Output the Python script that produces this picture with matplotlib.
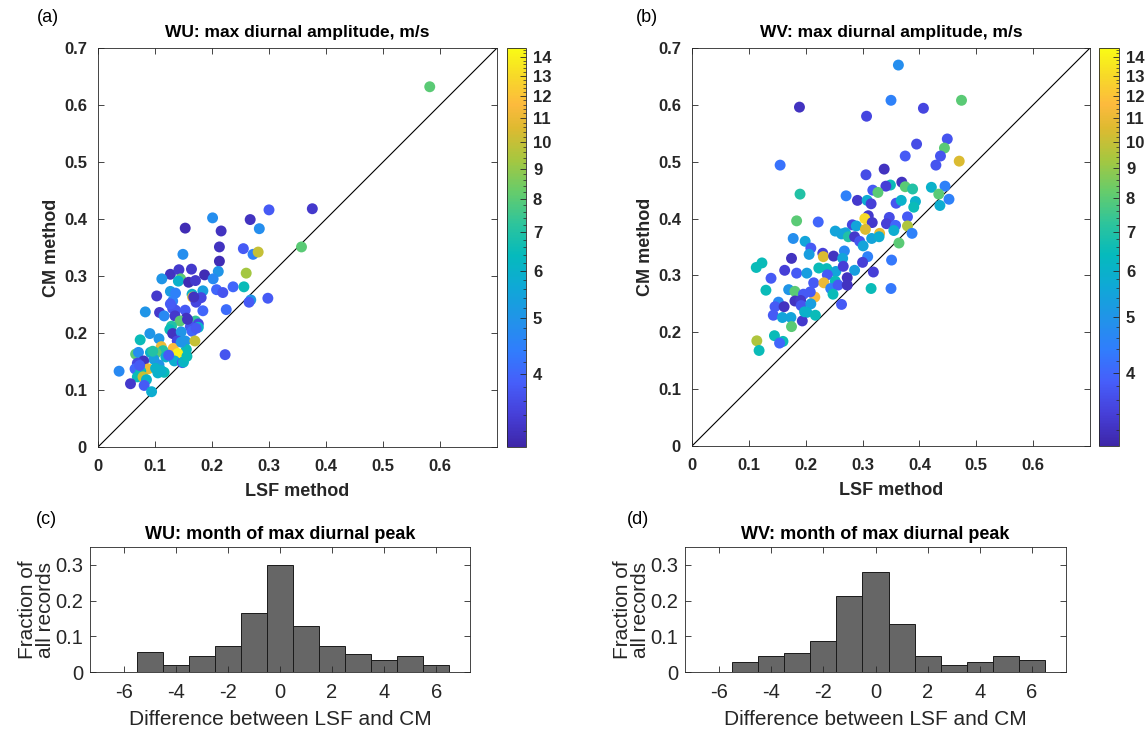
import numpy as np
import matplotlib
matplotlib.use("Agg")
import matplotlib.pyplot as plt
from matplotlib.colors import LinearSegmentedColormap, LogNorm
from matplotlib.ticker import FixedLocator, FuncFormatter, NullFormatter

plt.rcParams['font.family'] = ['Liberation Sans', 'DejaVu Sans']
plt.rcParams['axes.unicode_minus'] = False

# --- panel (a): WU max diurnal amplitude
wu_lsf = [0.582, 0.376, 0.300, 0.201, 0.267, 0.153, 0.216, 0.283, 0.213, 0.357,
          0.255, 0.272, 0.281, 0.149, 0.213, 0.260, 0.211, 0.127, 0.142, 0.164,
          0.187, 0.112, 0.145, 0.141, 0.159, 0.171, 0.202, 0.237, 0.256, 0.208,
          0.219, 0.184, 0.127, 0.136, 0.103, 0.165, 0.166, 0.181, 0.172, 0.131,
          0.268, 0.265, 0.298, 0.083, 0.108, 0.116, 0.131, 0.136, 0.153, 0.184,
          0.225, 0.135, 0.155, 0.144, 0.171, 0.176, 0.129, 0.126, 0.162, 0.176,
          0.131, 0.146, 0.165, 0.091, 0.074, 0.107, 0.139, 0.153, 0.170, 0.111,
          0.132, 0.155, 0.114, 0.140, 0.092, 0.102, 0.066, 0.071, 0.119, 0.098,
          0.223, 0.080, 0.069, 0.134, 0.148, 0.150, 0.107, 0.065, 0.088, 0.037,
          0.075, 0.105, 0.116, 0.069, 0.079, 0.085, 0.057, 0.081, 0.094, 0.096,
          0.111, 0.101, 0.124, 0.146, 0.156, 0.073, 0.168, 0.127, 0.157, 0.172]
wu_cm = [0.632, 0.418, 0.416, 0.402, 0.399, 0.384, 0.379, 0.383, 0.351, 0.351,
         0.348, 0.338, 0.342, 0.338, 0.326, 0.305, 0.308, 0.303, 0.311, 0.312,
         0.302, 0.295, 0.295, 0.291, 0.289, 0.292, 0.295, 0.281, 0.281, 0.276,
         0.271, 0.274, 0.273, 0.270, 0.265, 0.268, 0.263, 0.262, 0.254, 0.256,
         0.258, 0.254, 0.261, 0.237, 0.236, 0.230, 0.243, 0.240, 0.240, 0.239,
         0.241, 0.230, 0.226, 0.221, 0.221, 0.216, 0.212, 0.206, 0.211, 0.210,
         0.199, 0.202, 0.203, 0.199, 0.188, 0.190, 0.186, 0.186, 0.186, 0.176,
         0.173, 0.171, 0.169, 0.164, 0.166, 0.165, 0.163, 0.166, 0.158, 0.154,
         0.162, 0.151, 0.147, 0.151, 0.148, 0.149, 0.144, 0.137, 0.137, 0.133,
         0.133, 0.130, 0.131, 0.123, 0.123, 0.118, 0.111, 0.108, 0.097, 0.168,
         0.134, 0.138, 0.161, 0.184, 0.159, 0.143, 0.263, 0.251, 0.224, 0.208]
wu_month = [8.0, 3.3, 3.8, 4.8, 3.2, 3.1, 3.2, 4.8, 3.2, 8.0,
            3.8, 4.5, 10.0, 4.8, 3.1, 9.3, 5.0, 3.2, 3.3, 3.3,
            3.1, 5.0, 8.0, 6.0, 3.1, 3.3, 4.7, 4.0, 6.5, 4.0,
            3.7, 5.3, 5.2, 4.5, 3.3, 6.0, 11.0, 3.5, 3.5, 4.5,
            5.0, 3.8, 3.8, 5.0, 3.3, 4.7, 3.7, 3.7, 3.8, 4.0,
            4.1, 3.3, 3.2, 8.0, 7.3, 3.5, 7.0, 6.5, 3.7, 6.0,
            3.2, 5.0, 4.0, 5.0, 6.5, 5.0, 3.5, 5.0, 10.0, 11.0,
            11.5, 6.5, 7.0, 14.0, 6.0, 8.0, 8.0, 4.8, 6.0, 5.3,
            3.7, 3.2, 3.5, 5.8, 3.8, 6.2, 5.0, 4.0, 11.0, 4.7,
            6.5, 6.0, 6.5, 6.5, 10.0, 6.0, 3.3, 3.8, 5.8, 7.0,
            6.0, 6.0, 3.8, 5.0, 6.5, 3.8, 3.2, 3.8, 3.2, 3.8]

# --- panel (b): WV max diurnal amplitude
wv_lsf = [0.363, 0.350, 0.474, 0.189, 0.407, 0.307, 0.449, 0.395, 0.444, 0.375,
          0.437, 0.470, 0.429, 0.155, 0.338, 0.306, 0.369, 0.349, 0.341, 0.318,
          0.327, 0.375, 0.388, 0.421, 0.445, 0.434, 0.436, 0.452, 0.190, 0.271,
          0.291, 0.308, 0.315, 0.359, 0.368, 0.393, 0.390, 0.184, 0.222, 0.310,
          0.347, 0.379, 0.304, 0.282, 0.289, 0.317, 0.342, 0.358, 0.379, 0.305,
          0.330, 0.355, 0.387, 0.252, 0.270, 0.263, 0.275, 0.286, 0.178, 0.199,
          0.295, 0.301, 0.316, 0.329, 0.364, 0.209, 0.206, 0.230, 0.231, 0.249,
          0.268, 0.265, 0.175, 0.309, 0.351, 0.113, 0.123, 0.163, 0.184, 0.202,
          0.223, 0.237, 0.253, 0.266, 0.300, 0.286, 0.319, 0.139, 0.238, 0.273,
          0.214, 0.252, 0.232, 0.130, 0.170, 0.181, 0.244, 0.257, 0.273, 0.315,
          0.350, 0.216, 0.196, 0.208, 0.248, 0.152, 0.146, 0.162, 0.181, 0.191,
          0.192, 0.209, 0.263, 0.143, 0.159, 0.174, 0.202, 0.217, 0.194, 0.175,
          0.145, 0.160, 0.154, 0.114, 0.118, 0.198]
wv_cm = [0.670, 0.608, 0.608, 0.596, 0.594, 0.580, 0.540, 0.531, 0.524, 0.510,
         0.510, 0.501, 0.494, 0.494, 0.487, 0.477, 0.464, 0.459, 0.457, 0.450,
         0.446, 0.456, 0.452, 0.455, 0.457, 0.443, 0.423, 0.434, 0.443, 0.440,
         0.432, 0.432, 0.426, 0.427, 0.432, 0.430, 0.420, 0.396, 0.394, 0.405,
         0.402, 0.403, 0.400, 0.389, 0.387, 0.393, 0.391, 0.388, 0.387, 0.381,
         0.374, 0.379, 0.374, 0.378, 0.375, 0.373, 0.368, 0.368, 0.365, 0.360,
         0.360, 0.352, 0.365, 0.368, 0.357, 0.348, 0.337, 0.339, 0.333, 0.334,
         0.343, 0.330, 0.330, 0.333, 0.327, 0.314, 0.322, 0.309, 0.304, 0.304,
         0.313, 0.312, 0.307, 0.316, 0.323, 0.309, 0.306, 0.295, 0.301, 0.296,
         0.287, 0.290, 0.287, 0.274, 0.275, 0.272, 0.277, 0.283, 0.283, 0.277,
         0.277, 0.262, 0.267, 0.271, 0.267, 0.253, 0.245, 0.245, 0.255, 0.256,
         0.247, 0.250, 0.249, 0.230, 0.226, 0.226, 0.235, 0.230, 0.220, 0.210,
         0.194, 0.184, 0.181, 0.185, 0.168, 0.236]
wv_month = [4.8, 4.5, 8.0, 3.2, 3.5, 3.5, 3.7, 3.6, 8.0, 3.8,
            3.7, 10.5, 3.7, 4.2, 3.2, 3.6, 3.2, 6.5, 3.4, 3.8,
            8.0, 8.0, 7.0, 6.0, 4.5, 8.0, 5.8, 4.5, 7.0, 4.5,
            3.3, 5.8, 3.4, 3.7, 6.0, 6.0, 6.5, 8.0, 4.0, 3.3,
            3.6, 3.8, 13.0, 3.5, 5.5, 3.3, 3.4, 4.0, 9.5, 10.5,
            10.8, 5.8, 4.5, 5.5, 5.5, 5.5, 7.0, 3.3, 4.8, 5.5,
            3.7, 5.5, 5.5, 5.8, 8.0, 3.8, 5.3, 3.4, 10.5, 3.2,
            4.7, 5.5, 3.2, 4.5, 4.3, 6.5, 6.5, 3.4, 3.8, 5.3,
            6.5, 6.5, 5.5, 3.4, 3.4, 5.3, 3.4, 3.8, 3.8, 3.2,
            3.8, 6.5, 11.0, 6.5, 5.0, 8.0, 4.5, 3.8, 3.2, 6.5,
            4.3, 11.5, 3.8, 3.8, 6.5, 4.7, 3.8, 3.2, 3.2, 3.3,
            3.7, 5.3, 3.8, 3.8, 5.5, 5.5, 6.0, 6.5, 3.3, 8.0,
            6.5, 6.5, 4.0, 9.5, 6.5, 6.0]

# --- histograms (c), (d): month difference LSF - CM
month_diff = [-5, -4, -3, -2, -1, 0, 1, 2, 3, 4, 5, 6]
wu_frac = [0.057, 0.021, 0.044, 0.073, 0.165, 0.299, 0.129, 0.073, 0.051, 0.034, 0.044, 0.021]
wv_frac = [0.029, 0.044, 0.052, 0.086, 0.213, 0.279, 0.135, 0.044, 0.021, 0.029, 0.044, 0.034]

# approximate MATLAB parula
parula = LinearSegmentedColormap.from_list('parula', [
    (0.00, (0.2422, 0.1504, 0.6603)),
    (0.08, (0.2734, 0.2481, 0.8481)),
    (0.16, (0.2760, 0.3676, 0.9800)),
    (0.24, (0.1900, 0.4900, 0.9900)),
    (0.32, (0.1300, 0.5800, 0.9100)),
    (0.40, (0.0600, 0.6600, 0.8400)),
    (0.48, (0.0200, 0.7300, 0.7400)),
    (0.56, (0.1800, 0.7700, 0.6100)),
    (0.64, (0.4000, 0.8000, 0.4200)),
    (0.72, (0.6500, 0.7800, 0.2500)),
    (0.80, (0.8700, 0.7300, 0.1900)),
    (0.86, (0.9900, 0.7300, 0.2400)),
    (0.93, (0.9700, 0.8500, 0.1600)),
    (1.00, (0.9769, 0.9839, 0.0805)),
])
norm = LogNorm(vmin=3.0, vmax=14.5)
dark = (0.15, 0.15, 0.15)

W, H = 1148, 731
fig = plt.figure(figsize=(W / 100, H / 100), dpi=100)


def rect(left, top, right, bottom):
    return [left / W, 1 - bottom / H, (right - left) / W, (bottom - top) / H]


def fmt(v, p):
    return '0' if abs(v) < 1e-9 else f'{v:.1f}'


def scatter_panel(pos, cpos, x, y, c, title):
    ax = fig.add_axes(rect(*pos))
    ax.plot([0, 0.7], [0, 0.7], color='k', lw=0.8, zorder=1)
    sc = ax.scatter(x, y, c=c, cmap=parula, norm=norm, s=62, linewidths=0, zorder=2)
    ax.set_xlim(0, 0.7)
    ax.set_ylim(0, 0.7)
    ax.set_xticks(np.arange(0, 0.65, 0.1))
    ax.set_yticks(np.arange(0, 0.75, 0.1))
    ax.xaxis.set_major_formatter(FuncFormatter(fmt))
    ax.yaxis.set_major_formatter(FuncFormatter(fmt))
    ax.tick_params(direction='in', top=True, right=True, length=4, width=0.6,
                   color=dark, labelcolor=dark, labelsize=12)
    ax.tick_params(axis='x', pad=9)
    ax.tick_params(axis='y', pad=8)
    for lab in ax.get_xticklabels() + ax.get_yticklabels():
        lab.set_fontweight('bold')
    for s in ax.spines.values():
        s.set_color(dark)
        s.set_linewidth(0.6)
    ax.set_xlabel('LSF method', fontsize=13, fontweight='bold', color=dark, labelpad=6)
    ax.set_ylabel('CM method', fontsize=13, fontweight='bold', color=dark, labelpad=3)
    ax.set_title(title, fontsize=12.5, fontweight='bold', pad=8)

    cax = fig.add_axes(rect(*cpos))
    cb = fig.colorbar(sc, cax=cax)
    cb.outline.set_color(dark)
    cb.outline.set_linewidth(0.6)
    cax.yaxis.set_major_locator(FixedLocator(list(range(4, 15))))
    cax.yaxis.set_major_formatter(FuncFormatter(lambda v, p: f'{v:.0f}'))
    cax.yaxis.set_minor_locator(FixedLocator(np.arange(3.2, 14.5, 0.2)))
    cax.yaxis.set_minor_formatter(NullFormatter())
    cax.tick_params(which='major', direction='in', length=4, width=0.6, color=dark,
                    labelcolor=dark, labelsize=12, pad=5)
    cax.tick_params(which='minor', direction='in', length=2, width=0.5, color=dark)
    for lab in cax.get_yticklabels():
        lab.set_fontweight('bold')
    return ax


def hist_panel(pos, frac, title):
    ax = fig.add_axes(rect(*pos))
    ax.bar(month_diff, frac, width=1.0, color=(0.4, 0.4, 0.4),
           edgecolor=(0.1, 0.1, 0.1), linewidth=0.7)
    ax.set_xlim(-7.3, 7.3)
    ax.set_ylim(0, 0.35)
    ax.set_xticks(range(-6, 7, 2))
    ax.set_yticks([0, 0.1, 0.2, 0.3])
    ax.yaxis.set_major_formatter(FuncFormatter(fmt))
    ax.tick_params(direction='in', top=True, right=True, length=4, width=0.6,
                   color=dark, labelcolor=dark, labelsize=14.5)
    ax.tick_params(axis='x', pad=8)
    ax.tick_params(axis='y', pad=5)
    for s in ax.spines.values():
        s.set_color(dark)
        s.set_linewidth(0.6)
    ax.set_xlabel('Difference between LSF and CM', fontsize=15, color=dark, labelpad=6)
    ax.set_ylabel('Fraction of\nall records', fontsize=15, color=dark, labelpad=0,
                  linespacing=0.95)
    ax.set_title(title, fontsize=13, fontweight='bold', pad=6)
    return ax


scatter_panel((98, 48, 497, 447), (507, 48, 526, 447), wu_lsf, wu_cm, wu_month,
              'WU: max diurnal amplitude, m/s')
scatter_panel((692, 48, 1090, 446), (1099, 48, 1119, 446), wv_lsf, wv_cm, wv_month,
              'WV: max diurnal amplitude, m/s')
hist_panel((90, 547, 470, 672), wu_frac, 'WU: month of max diurnal peak')
hist_panel((685, 547, 1066, 672), wv_frac, 'WV: month of max diurnal peak')

for lab, px, py in [('(a)', 37, 17), ('(b)', 636, 17), ('(c)', 36, 520), ('(d)', 627, 520)]:
    fig.text(px / W, 1 - py / H, lab, fontsize=13, ha='left', va='center')

fig.savefig('out.png', dpi=100)
